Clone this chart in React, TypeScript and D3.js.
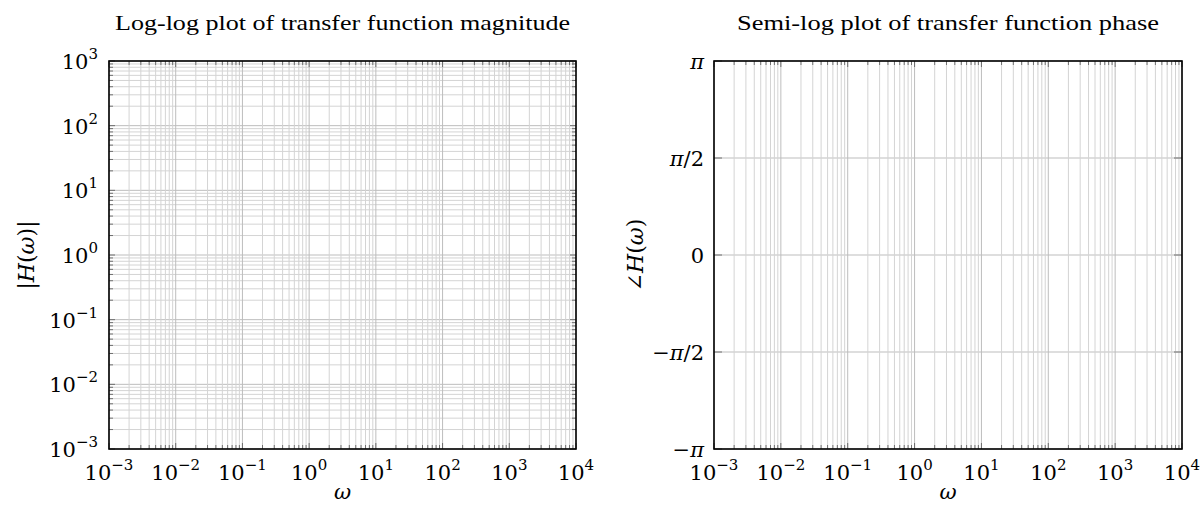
import React from 'react';
import * as d3 from 'd3';

// frequency decades (exponents) shown on both x axes
const xExponents = [-3, -2, -1, 0, 1, 2, 3, 4];
// magnitude decades (exponents) on the left y axis
const magExponents = [-3, -2, -1, 0, 1, 2, 3];
// phase ticks on the right y axis: [sign, uses pi, suffix]
const phaseValues = [-Math.PI, -Math.PI / 2, 0, Math.PI / 2, Math.PI];
const phaseLabels = ['\u2212\u03c0', '\u2212\u03c0/2', '0', '\u03c0/2', '\u03c0'];

const titles = [
  'Log-log plot of transfer function magnitude',
  'Semi-log plot of transfer function phase',
];

const W = 1200;
const H = 506;
const top = 61;
const bottom = 449;
const panels = [
  { left: 109, right: 576, titleLen: 455 },
  { left: 714, right: 1182, titleLen: 422 },
];

const times = '"Liberation Serif", "Times New Roman", serif';
const math = '"DejaVu Serif", serif';
const majorGrid = '#bdbdbd';
const minorGrid = '#d4d4d4';
const tickColor = '#555';

const pow = (e: number) => (
  <>
    10<tspan dy={-10} fontSize={15}>{e < 0 ? '\u2212' + Math.abs(e) : String(e)}</tspan>
  </>
);

// render pi glyphs in italic like math mode
const piLabel = (s: string) =>
  s.split(/(\u03c0)/).map((part, i) =>
    part === '\u03c0' ? <tspan key={i} fontStyle="italic">{part}</tspan> : <tspan key={i}>{part}</tspan>
  );

function XAxis({ x }: { x: d3.ScaleLogarithmic<number, number> }) {
  const all = x.ticks();
  const majors = xExponents.map(e => Math.pow(10, e));
  const isMajor = (v: number) => majors.some(m => Math.abs(v / m - 1) < 1e-9);
  return (
    <g>
      {all.filter(v => !isMajor(v)).map((v, i) => (
        <line key={'mg' + i} x1={x(v)} x2={x(v)} y1={top} y2={bottom} stroke={minorGrid} strokeWidth={1} />
      ))}
      {majors.map((v, i) => (
        <line key={'Mg' + i} x1={x(v)} x2={x(v)} y1={top} y2={bottom} stroke={majorGrid} strokeWidth={1} />
      ))}
      {all.map((v, i) => {
        const len = isMajor(v) ? 6 : 4;
        return (
          <g key={'t' + i}>
            <line x1={x(v)} x2={x(v)} y1={bottom} y2={bottom - len} stroke={tickColor} strokeWidth={0.8} />
            <line x1={x(v)} x2={x(v)} y1={top} y2={top + len} stroke={tickColor} strokeWidth={0.8} />
          </g>
        );
      })}
      {xExponents.map(e => (
        <text key={'l' + e} x={x(Math.pow(10, e))} y={480} textAnchor="middle" fontFamily={math} fontSize={21}>
          {pow(e)}
        </text>
      ))}
    </g>
  );
}

function Frame({ left, right, titleLen, title }: { left: number; right: number; titleLen: number; title: string }) {
  const cx = (left + right) / 2;
  return (
    <g>
      <rect x={left} y={top} width={right - left} height={bottom - top} fill="none" stroke="#000" strokeWidth={1.6} />
      <text x={cx} y={30} textAnchor="middle" fontFamily={times} fontSize={22}
        textLength={titleLen} lengthAdjust="spacingAndGlyphs">{title}</text>
      <text x={cx} y={499} textAnchor="middle" fontFamily={math} fontSize={21} fontStyle="italic">{'\u03c9'}</text>
    </g>
  );
}

function MagnitudePanel() {
  const { left, right, titleLen } = panels[0];
  const x = d3.scaleLog().domain([1e-3, 1e4]).range([left, right]);
  const y = d3.scaleLog().domain([1e-3, 1e3]).range([bottom, top]);
  const all = y.ticks();
  const majors = magExponents.map(e => Math.pow(10, e));
  const isMajor = (v: number) => majors.some(m => Math.abs(v / m - 1) < 1e-9);
  return (
    <g>
      {all.filter(v => !isMajor(v)).map((v, i) => (
        <line key={'mg' + i} x1={left} x2={right} y1={y(v)} y2={y(v)} stroke={minorGrid} strokeWidth={1} />
      ))}
      {majors.map((v, i) => (
        <line key={'Mg' + i} x1={left} x2={right} y1={y(v)} y2={y(v)} stroke={majorGrid} strokeWidth={1} />
      ))}
      <XAxis x={x} />
      {all.map((v, i) => {
        const len = isMajor(v) ? 6 : 4;
        return (
          <g key={'yt' + i}>
            <line x1={left} x2={left + len} y1={y(v)} y2={y(v)} stroke={tickColor} strokeWidth={0.8} />
            <line x1={right} x2={right - len} y1={y(v)} y2={y(v)} stroke={tickColor} strokeWidth={0.8} />
          </g>
        );
      })}
      {magExponents.map(e => (
        <text key={'yl' + e} x={left - 11} y={y(Math.pow(10, e)) + 8} textAnchor="end" fontFamily={math} fontSize={21}>
          {pow(e)}
        </text>
      ))}
      <Frame left={left} right={right} titleLen={titleLen} title={titles[0]} />
      <text transform={`translate(34,${(top + bottom) / 2}) rotate(-90)`} textAnchor="middle" fontFamily={math} fontSize={22}>
        |<tspan fontStyle="italic">H</tspan>(<tspan fontStyle="italic">{'\u03c9'}</tspan>)|
      </text>
    </g>
  );
}

function PhasePanel() {
  const { left, right, titleLen } = panels[1];
  const x = d3.scaleLog().domain([1e-3, 1e4]).range([left, right]);
  const y = d3.scaleLinear().domain([-Math.PI, Math.PI]).range([bottom, top]);
  return (
    <g>
      {phaseValues.map((v, i) => (
        <line key={'g' + i} x1={left} x2={right} y1={y(v)} y2={y(v)} stroke={majorGrid} strokeWidth={1} />
      ))}
      <XAxis x={x} />
      {phaseValues.map((v, i) => (
        <g key={'yt' + i}>
          <line x1={left} x2={left + 8} y1={y(v)} y2={y(v)} stroke={tickColor} strokeWidth={0.8} />
          <line x1={right} x2={right - 8} y1={y(v)} y2={y(v)} stroke={tickColor} strokeWidth={0.8} />
        </g>
      ))}
      {phaseValues.map((v, i) => (
        <text key={'yl' + i} x={left - 10} y={y(v) + 8} textAnchor="end" fontFamily={math} fontSize={21}>
          {piLabel(phaseLabels[i])}
        </text>
      ))}
      <Frame left={left} right={right} titleLen={titleLen} title={titles[1]} />
      <text transform={`translate(643,${(top + bottom) / 2}) rotate(-90)`} textAnchor="middle" fontFamily={math} fontSize={22}>
        {'\u2220'}<tspan fontStyle="italic">H</tspan>(<tspan fontStyle="italic">{'\u03c9'}</tspan>)
      </text>
    </g>
  );
}

export default function App() {
  return (
    <svg width={W} height={H} style={{ position: 'absolute', left: 0, top: 0, background: '#fff' }}>
      <rect width={W} height={H} fill="#fff" />
      <MagnitudePanel />
      <PhasePanel />
    </svg>
  );
}
